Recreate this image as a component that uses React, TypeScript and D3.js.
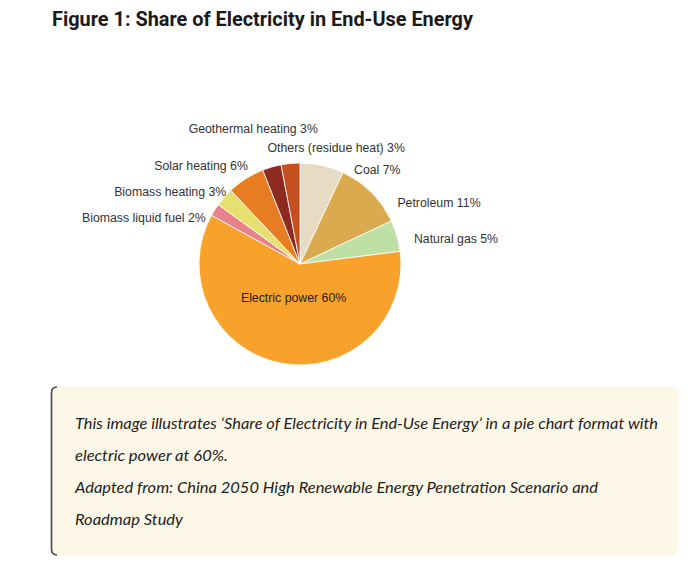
import React from 'react';
import * as d3 from 'd3';

// ---- data ----
const categories = [
  'Coal',
  'Petroleum',
  'Natural gas',
  'Electric power',
  'Biomass liquid fuel',
  'Biomass heating',
  'Solar heating',
  'Geothermal heating',
  'Others (residue heat)',
];
const shares = [7, 11, 5, 60, 2, 3, 6, 3, 3];
const sliceColors = [
  '#E7DBC4',
  '#D9AB4E',
  '#BEE0A4',
  '#F8A22B',
  '#E8828A',
  '#E5E06F',
  '#E77C22',
  '#8C2A1F',
  '#C5501F',
];

const titleText = 'Figure 1: Share of Electricity in End-Use Energy';
const captionLines = [
  'This image illustrates \u2018Share of Electricity in End-Use Energy\u2019 in a pie chart format with',
  'electric power at 60%.',
  'Adapted from: China 2050 High Renewable Energy Penetration Scenario and',
  'Roadmap Study',
];

// ---- layout (not data) ----
const W = 696;
const H = 577;
const CX = 300;
const CY = 264;
const R = 101;
// label placement relative to each slice's outer mid-point: [dx, dy, anchor]
const LABEL_OFFSETS: Record<string, [number, number, string]> = {
  Coal: [32, 5, 'start'],
  Petroleum: [26, 10, 'start'],
  'Natural gas': [17, 3, 'start'],
  'Biomass liquid fuel': [-9, 8, 'end'],
  'Biomass heating': [2, -5, 'end'],
  'Solar heating': [2, -13, 'end'],
  'Geothermal heating': [46, -38, 'end'],
  'Others (residue heat)': [-23, -15, 'start'],
};
const INSIDE_LABEL_FRACTION = 0.34;
const captionWidths = [583, 153, 523, 108];
const LABEL_FONT = 12.3;

export default function App() {
  const pie = d3
    .pie<number>()
    .sort(null)
    .value((d) => d);
  const arcs = pie(shares);
  const arcGen = d3.arc<d3.PieArcDatum<number>>().innerRadius(0).outerRadius(R);
  const rimGen = d3.arc<d3.PieArcDatum<number>>().innerRadius(R).outerRadius(R);
  const innerGen = d3
    .arc<d3.PieArcDatum<number>>()
    .innerRadius(R * INSIDE_LABEL_FRACTION)
    .outerRadius(R * INSIDE_LABEL_FRACTION);

  return (
    <svg
      width={W}
      height={H}
      viewBox={`0 0 ${W} ${H}`}
      style={{ position: 'absolute', left: 0, top: 0, background: '#fff' }}
    >
      <text
        x={52}
        y={26}
        fontFamily="Roboto, sans-serif"
        fontWeight={700}
        fontSize={20}
        fill="#1a1a1a"
        textLength={421}
        lengthAdjust="spacingAndGlyphs"
      >
        {titleText}
      </text>

      <g transform={`translate(${CX},${CY})`}>
        {arcs.map((a, i) => (
          <path
            key={categories[i]}
            d={arcGen(a) || ''}
            fill={sliceColors[i]}
            stroke="#fff"
            strokeWidth={0.8}
          />
        ))}
        {arcs.map((a, i) => {
          const name = categories[i];
          const label = `${name} ${shares[i]}%`;
          const off = LABEL_OFFSETS[name];
          if (!off) {
            const [x, y] = innerGen.centroid(a);
            return (
              <text
                key={name}
                x={x}
                y={y}
                textAnchor="middle"
                dominantBaseline="central"
                fontFamily="'Liberation Sans', Arial, sans-serif"
                fontSize={LABEL_FONT}
                fill="#222"
              >
                {label}
              </text>
            );
          }
          const [px, py] = rimGen.centroid(a);
          return (
            <text
              key={name}
              x={px + off[0]}
              y={py + off[1]}
              textAnchor={off[2]}
              dominantBaseline="central"
              fontFamily="'Liberation Sans', Arial, sans-serif"
              fontSize={LABEL_FONT}
              fill="#333"
            >
              {label}
            </text>
          );
        })}
      </g>

      <rect x={51} y={387} width={628} height={168} rx={6} fill="#FDF7E7" />
      <path
        d="M57,387 Q51.5,387 51.5,393 L51.5,549 Q51.5,555 57,555"
        fill="none"
        stroke="#4a4a4a"
        strokeWidth={1.6}
      />
      {captionLines.map((line, i) => (
        <text
          key={i}
          x={75}
          y={429 + i * 32}
          fontFamily="Lato, sans-serif"
          fontStyle="italic"
          fontSize={15}
          fill="#222"
          textLength={captionWidths[i]}
          lengthAdjust="spacingAndGlyphs"
        >
          {line}
        </text>
      ))}
    </svg>
  );
}
